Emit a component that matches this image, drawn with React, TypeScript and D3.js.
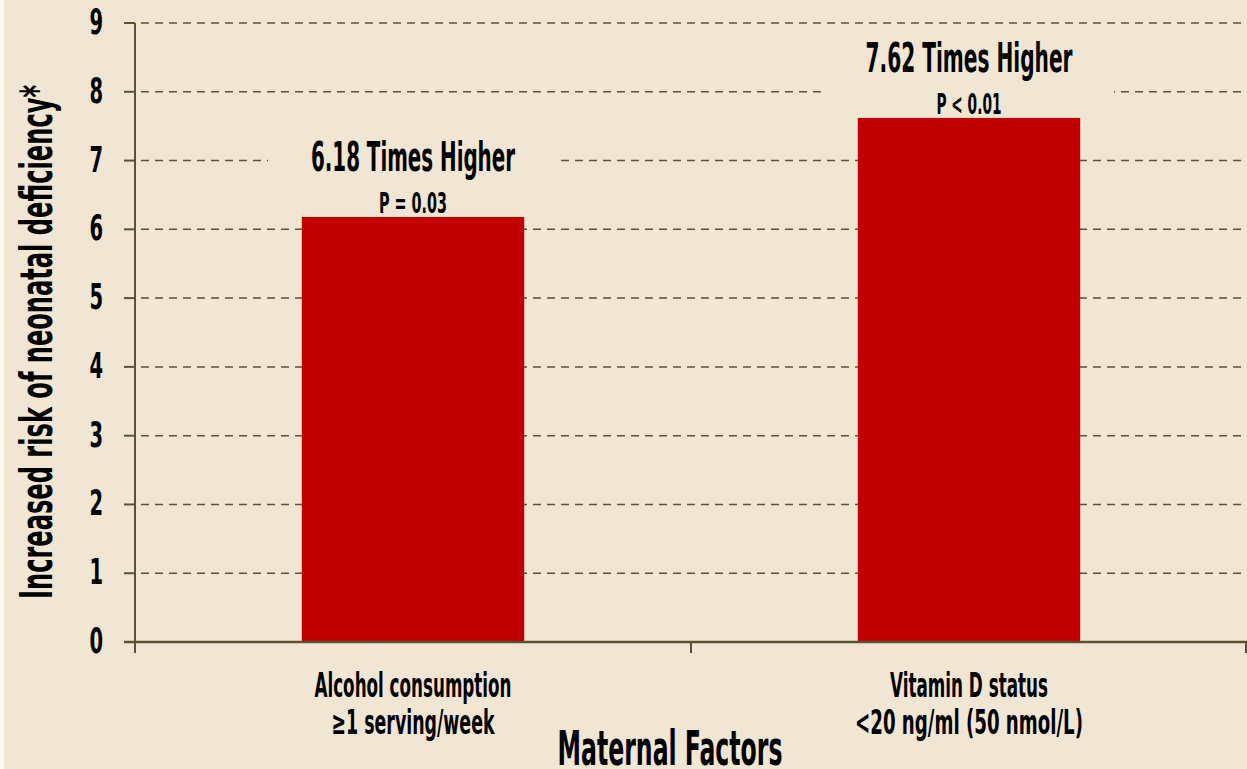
import React, { useEffect, useRef } from "react";
import * as d3 from "d3";

// chart data
const categories = ["Alcohol consumption", "Vitamin D status"];
const categoryDetails = ["≥1 serving/week", "<20 ng/ml (50 nmol/L)"];
const riskValues = [6.18, 7.62];
const riskLabels = ["6.18 Times Higher", "7.62 Times Higher"];
const pLabels = ["P = 0.03", "P < 0.01"];
const yTicks = [0, 1, 2, 3, 4, 5, 6, 7, 8, 9];
const yTitle = "Increased risk of neonatal deficiency*";
const xTitle = "Maternal Factors";

// target text widths (the original uses a very condensed face)
const catWidths = [197, 158];
const detailWidths = [163, 228];
const riskWidths = [204, 207];
const pWidths = [68, 65];

const W = 1247;
const H = 769;
const BG = "#f1e6d4";
const AXIS = "#5a5233";
const BAR = "#c00000";
const FONT = "'Liberation Sans Narrow', 'DejaVu Sans Condensed', 'Roboto Condensed', sans-serif";

const App = () => {
  const ref = useRef<SVGSVGElement>(null);

  useEffect(() => {
    document.body.style.margin = "0";
    const svg = d3.select(ref.current);
    svg.selectAll("*").remove();

    const left = 135;
    const right = W;
    const top = 23;
    const bottom = 642;

    const y = d3.scaleLinear().domain([0, 9]).range([bottom, top]);
    const x = d3
      .scaleBand<string>()
      .domain(categories)
      .range([left, right])
      .paddingInner(0.6)
      .paddingOuter(0.3);

    svg.append("rect").attr("width", W).attr("height", H).attr("fill", BG);
    svg.append("rect").attr("width", 4).attr("height", H).attr("fill", "#fbf8f2");

    // gridlines
    svg
      .append("g")
      .selectAll("line")
      .data(yTicks.filter((t) => t > 0))
      .join("line")
      .attr("x1", left)
      .attr("x2", right)
      .attr("y1", (d) => y(d))
      .attr("y2", (d) => y(d))
      .attr("stroke", AXIS)
      .attr("stroke-width", 1.5)
      .attr("stroke-dasharray", "8,6")
      .attr("stroke-dashoffset", -6);

    // y tick marks + labels
    const yt = svg.append("g");
    yt.selectAll("line")
      .data(yTicks)
      .join("line")
      .attr("x1", left - 11)
      .attr("x2", left)
      .attr("y1", (d) => y(d))
      .attr("y2", (d) => y(d))
      .attr("stroke", AXIS)
      .attr("stroke-width", 2);
    yt.selectAll("text")
      .data(yTicks)
      .join("text")
      .attr("transform", (d) => `translate(103,${y(d) + 11}) scale(0.62,1)`)
      .attr("text-anchor", "end")
      .attr("font-family", FONT)
      .attr("font-weight", "bold")
      .attr("font-size", 35)
      .attr("fill", "#000")
      .text((d) => d);

    // label backgrounds (they interrupt the gridlines)
    const labelG = svg.append("g");
    labelG
      .selectAll("rect")
      .data(riskValues)
      .join("rect")
      .attr("x", (d, i) => x(categories[i])! + x.bandwidth() / 2 - 145)
      .attr("y", (d) => y(d) - 80)
      .attr("width", 290)
      .attr("height", 78)
      .attr("fill", BG);

    // bars
    svg
      .append("g")
      .selectAll("rect")
      .data(riskValues)
      .join("rect")
      .attr("x", (d, i) => x(categories[i])!)
      .attr("y", (d) => y(d))
      .attr("width", x.bandwidth())
      .attr("height", (d) => bottom - y(d))
      .attr("fill", BAR);

    // axes lines
    svg
      .append("line")
      .attr("x1", left)
      .attr("x2", left)
      .attr("y1", top)
      .attr("y2", bottom)
      .attr("stroke", AXIS)
      .attr("stroke-width", 2);
    svg
      .append("line")
      .attr("x1", left - 11)
      .attr("x2", right)
      .attr("y1", bottom)
      .attr("y2", bottom)
      .attr("stroke", AXIS)
      .attr("stroke-width", 2.5);

    const edges = categories.map((c) => x(c)! - x.step() * x.paddingOuter()).concat([right - 1]);
    svg
      .append("g")
      .selectAll("line")
      .data(edges)
      .join("line")
      .attr("x1", (d) => d)
      .attr("x2", (d) => d)
      .attr("y1", bottom)
      .attr("y2", bottom + 11)
      .attr("stroke", AXIS)
      .attr("stroke-width", 2);

    // value labels
    labelG
      .selectAll("text.risk")
      .data(riskValues)
      .join("text")
      .attr("class", "risk")
      .attr("x", (d, i) => x(categories[i])! + x.bandwidth() / 2)
      .attr("y", (d) => y(d) - 46)
      .attr("text-anchor", "middle")
      .attr("font-family", FONT)
      .attr("font-weight", "bold")
      .attr("font-size", 41)
      .attr("textLength", (d, i) => riskWidths[i])
      .attr("lengthAdjust", "spacingAndGlyphs")
      .text((d, i) => riskLabels[i]);

    labelG
      .selectAll("text.p")
      .data(riskValues)
      .join("text")
      .attr("class", "p")
      .attr("x", (d, i) => x(categories[i])! + x.bandwidth() / 2)
      .attr("y", (d) => y(d) - 4)
      .attr("text-anchor", "middle")
      .attr("font-family", FONT)
      .attr("font-weight", "bold")
      .attr("font-size", 29)
      .attr("textLength", (d, i) => pWidths[i])
      .attr("lengthAdjust", "spacingAndGlyphs")
      .text((d, i) => pLabels[i]);

    // category labels
    const cat = svg.append("g");
    cat
      .selectAll("text.c1")
      .data(categories)
      .join("text")
      .attr("class", "c1")
      .attr("x", (d) => x(d)! + x.bandwidth() / 2)
      .attr("y", 697)
      .attr("text-anchor", "middle")
      .attr("font-family", FONT)
      .attr("font-weight", "bold")
      .attr("font-size", 33)
      .attr("textLength", (d, i) => catWidths[i])
      .attr("lengthAdjust", "spacingAndGlyphs")
      .text((d) => d);
    cat
      .selectAll("text.c2")
      .data(categoryDetails)
      .join("text")
      .attr("class", "c2")
      .attr("x", (d, i) => x(categories[i])! + x.bandwidth() / 2)
      .attr("y", 734)
      .attr("text-anchor", "middle")
      .attr("font-family", FONT)
      .attr("font-weight", "bold")
      .attr("font-size", 33)
      .attr("textLength", (d, i) => detailWidths[i])
      .attr("lengthAdjust", "spacingAndGlyphs")
      .text((d) => d);

    // axis titles
    svg
      .append("text")
      .attr("x", 670)
      .attr("y", 765)
      .attr("text-anchor", "middle")
      .attr("font-family", FONT)
      .attr("font-weight", "bold")
      .attr("font-size", 48)
      .attr("textLength", 225)
      .attr("lengthAdjust", "spacingAndGlyphs")
      .text(xTitle);

    svg
      .append("text")
      .attr("transform", "translate(52,342) rotate(-90)")
      .attr("text-anchor", "middle")
      .attr("font-family", FONT)
      .attr("font-weight", "bold")
      .attr("font-size", 44)
      .attr("textLength", 514)
      .attr("lengthAdjust", "spacingAndGlyphs")
      .text(yTitle);
  }, []);

  return <svg ref={ref} width={W} height={H} style={{ display: "block" }} />;
};

export default App;
